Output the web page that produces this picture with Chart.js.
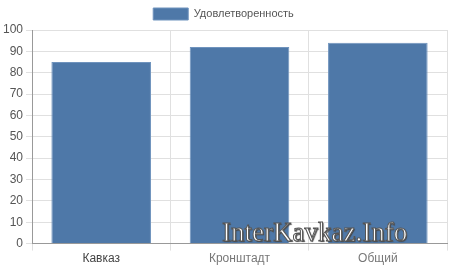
<!DOCTYPE html>
<html>
<head>
<meta charset="utf-8">
<script src="https://cdn.jsdelivr.net/npm/chart.js@4/dist/chart.umd.min.js"></script>
<style>
  html, body { margin: 0; padding: 0; background: #fff; }
  #wrap { position: relative; width: 450px; height: 270px; }
  #mark {
    position: absolute; left: 222px; top: 219px;
    font-family: "Liberation Serif", "DejaVu Serif", serif;
    font-size: 27px; line-height: 27px; color: #fff;
    -webkit-text-stroke: 1px #555;
    text-shadow: 1px 1px 1px #444;
    white-space: nowrap;
  }
</style>
</head>
<body>
<div id="wrap">
  <canvas id="chart" width="450" height="270"></canvas>
  <div id="mark">InterKavkaz.Info</div>
</div>
<script>
// данные
var categories = ['Кавказ', 'Кронштадт', 'Общий'];
var satisfaction = [85, 92, 94];
var seriesName = 'Удовлетворенность';

var ctx = document.getElementById('chart').getContext('2d');
Chart.defaults.font.family = '"Liberation Sans", Arial, sans-serif';
Chart.defaults.font.size = 12;
Chart.defaults.color = '#666';

new Chart(ctx, {
    type: 'bar',
    data: {
        labels: categories,
        datasets: [{
            label: seriesName,
            data: satisfaction,
            backgroundColor: '#4e78a8',
            borderColor: '#6f93bd',
            borderWidth: 1
        }]
    },
    options: {
        responsive: false,
        animation: false,
        layout: { padding: { left: 0, right: 3, top: 0, bottom: 3 } },
        plugins: {
            legend: {
                labels: { boxWidth: 35, boxHeight: 12, padding: 8, color: '#555', font: { size: 11 } }
            },
            tooltip: { enabled: false }
        },
        scales: {
            x: {
                grid: { color: '#e0e0e0', tickLength: 7 },
                border: { color: '#999' },
                ticks: { padding: 1, color: ['#444', '#777', '#777'], font: { size: 12 } }
            },
            y: {
                min: 0, max: 100,
                ticks: { stepSize: 10, color: '#555', font: { size: 12 } },
                grid: { color: '#e0e0e0', tickLength: 6 },
                border: { color: '#999' }
            }
        }
    }
});
</script>
</body>
</html>
